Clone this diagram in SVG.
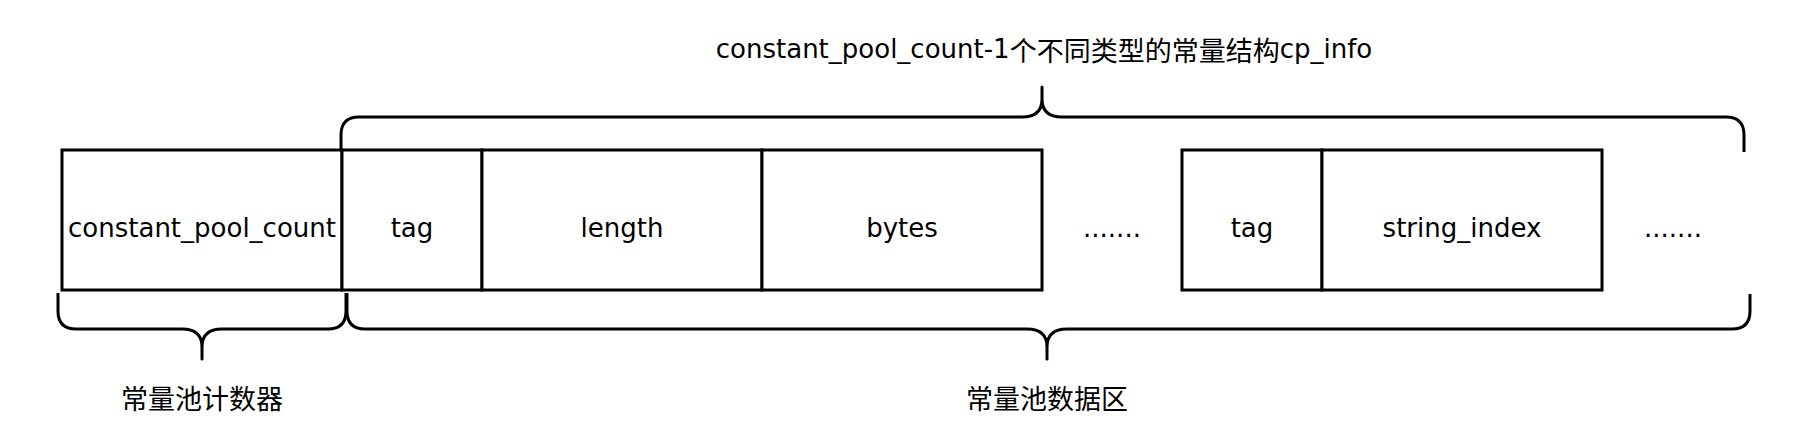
<svg xmlns="http://www.w3.org/2000/svg" width="1800" height="440" viewBox="0 0 1800 440">
<style>
.box{fill:#fff;stroke:#000;stroke-width:3}
.brace{fill:none;stroke:#000;stroke-width:3;stroke-linejoin:round}
text{font-family:"DejaVu Sans","Noto Sans CJK SC",sans-serif;font-size:26px;fill:#000;text-anchor:middle;dominant-baseline:central}
.cjk{font-family:"Noto Sans CJK SC",sans-serif;font-size:27px}
</style>
<rect width="1800" height="440" fill="#fff"/>
<g id="title"><text x="1044" y="49">constant_pool_count-1<tspan class="cjk">个不同类型的常量结构</tspan>cp_info</text></g>
<g id="count"><rect class="box" x="62" y="150" width="280" height="140"/><text x="202" y="228">constant_pool_count</text></g>
<g id="tag1"><rect class="box" x="342" y="150" width="140" height="140"/><text x="412" y="228">tag</text></g>
<g id="length"><rect class="box" x="482" y="150" width="280" height="140"/><text x="622" y="228">length</text></g>
<g id="bytes"><rect class="box" x="762" y="150" width="280" height="140"/><text x="902" y="228">bytes</text></g>
<g id="dots1"><text x="1112" y="228">.......</text></g>
<g id="tag2"><rect class="box" x="1182" y="150" width="140" height="140"/><text x="1252" y="228">tag</text></g>
<g id="string_index"><rect class="box" x="1322" y="150" width="280" height="140"/><text x="1462" y="228">string_index</text></g>
<g id="dots2"><text x="1673" y="228">.......</text></g>
<g id="connectors">
<path class="brace" d="M341,150 V135 Q341,117 359,117 H1022 Q1042,117 1042,99 V87 V99 Q1042,117 1062,117 H1726 Q1744,117 1744,135 V152"/>
<path class="brace" d="M58,293 V311 Q58,329 76,329 H182 Q202,329 202,347 V359 V347 Q202,329 222,329 H328 Q346,329 346,311 V293"/>
<path class="brace" d="M347,293 V311 Q347,329 365,329 H1027 Q1047,329 1047,347 V359 V347 Q1047,329 1067,329 H1732 Q1750,329 1750,311 V294"/>
</g>
<g id="label_count"><text class="cjk" x="202" y="397">常量池计数器</text></g>
<g id="label_data"><text class="cjk" x="1047" y="397">常量池数据区</text></g>
</svg>
